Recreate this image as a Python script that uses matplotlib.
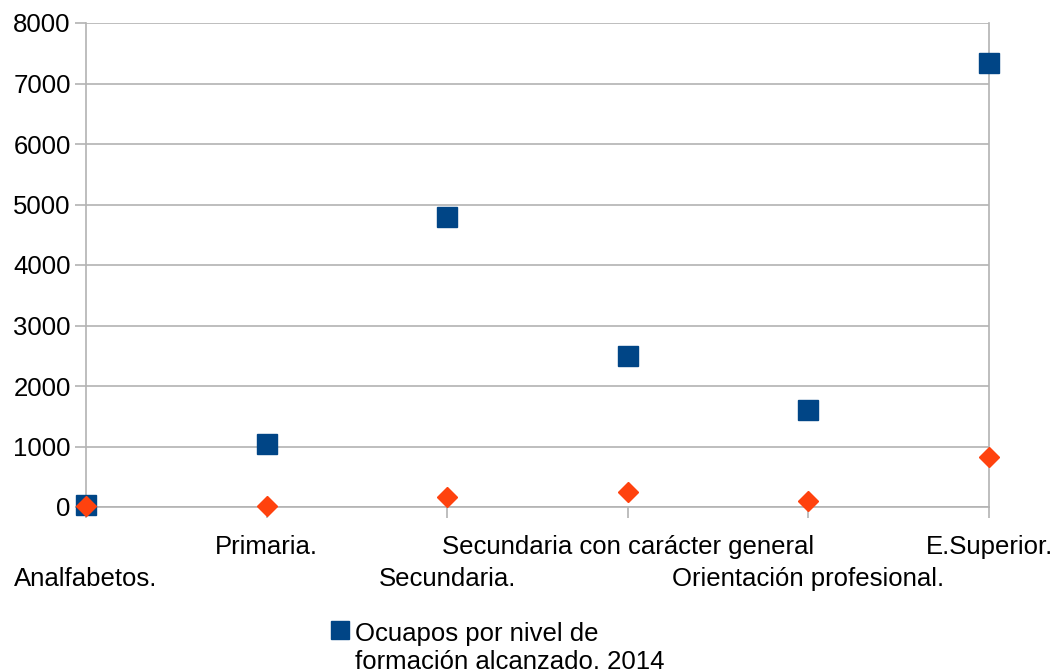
"""
Ocupados por nivel de formacion alcanzado, 2014 - scatter by category
"""

import matplotlib.pyplot as plt
from matplotlib.lines import Line2D
from matplotlib.transforms import ScaledTranslation

# --- Data ---
CATEGORIES = ["Analfabetos.", "Primaria.", "Secundaria.",
              "Secundaria con carácter general", "Orientación profesional.",
              "E.Superior."]
OCUPADOS = [30, 1040, 4790, 2500, 1600, 7340]
SECOND_SERIES = [10, 10, 165, 250, 100, 826]
LEGEND_LABEL = "Ocuapos por nivel de\nformación alcanzado. 2014"
Y_TICKS = [0, 1000, 2000, 3000, 4000, 5000, 6000, 7000, 8000]

BLUE = "#004586"
ORANGE = "#ff420e"
GRID = "#b3b3b3"
FONT_SIZE = 18.5

plt.rcParams['font.family'] = ['Liberation Sans', 'DejaVu Sans']

fig = plt.figure(figsize=(10.55, 6.72), dpi=100)
ax = fig.add_axes([86 / 1055, 1 - 507 / 672, (989 - 86) / 1055, (507 - 23) / 672])

x = list(range(len(CATEGORIES)))
ax.plot(x, OCUPADOS, linestyle="none", marker="s", markersize=14.5,
        color=BLUE, zorder=3, clip_on=False)
ax.plot(x, SECOND_SERIES, linestyle="none", marker="D", markersize=9.8,
        color=ORANGE, zorder=4, clip_on=False)

ax.set_xlim(0, len(CATEGORIES) - 1)
ax.set_ylim(0, 8000)
ax.set_yticks(Y_TICKS)
ax.yaxis.grid(True, color=GRID, linewidth=1.2)
ax.set_axisbelow(True)

ax.set_xticks(x)
ax.set_xticklabels(CATEGORIES)

ax.tick_params(axis="both", labelsize=FONT_SIZE, color=GRID, length=8, width=1.2)
ax.tick_params(axis="x", pad=12)
ax.tick_params(axis="y", pad=3)

# staggered category labels: even ones drop to a second row
drop = ScaledTranslation(0, -32 / 100, fig.dpi_scale_trans)
for i, lbl in enumerate(ax.get_xticklabels()):
    if i % 2 == 0:
        lbl.set_transform(lbl.get_transform() + drop)

for side in ["left", "right", "bottom"]:
    ax.spines[side].set_color(GRID)
    ax.spines[side].set_linewidth(1.2)
ax.spines["top"].set_visible(False)

handle = Line2D([], [], linestyle="none", marker="s", markersize=13,
                color=BLUE)
leg = fig.legend([handle], [LEGEND_LABEL], loc="upper left",
                 bbox_to_anchor=(332 / 1055, 1 - 622 / 672), frameon=False,
                 fontsize=FONT_SIZE, handlelength=0.6, handletextpad=0.3,
                 borderpad=0, borderaxespad=0, labelspacing=0)
# keep the legend square level with the first text line
h = leg.legend_handles[0]
h.set_transform(h.get_transform() + ScaledTranslation(0, 18 / 100, fig.dpi_scale_trans))

fig.savefig("out.png", dpi=100)
